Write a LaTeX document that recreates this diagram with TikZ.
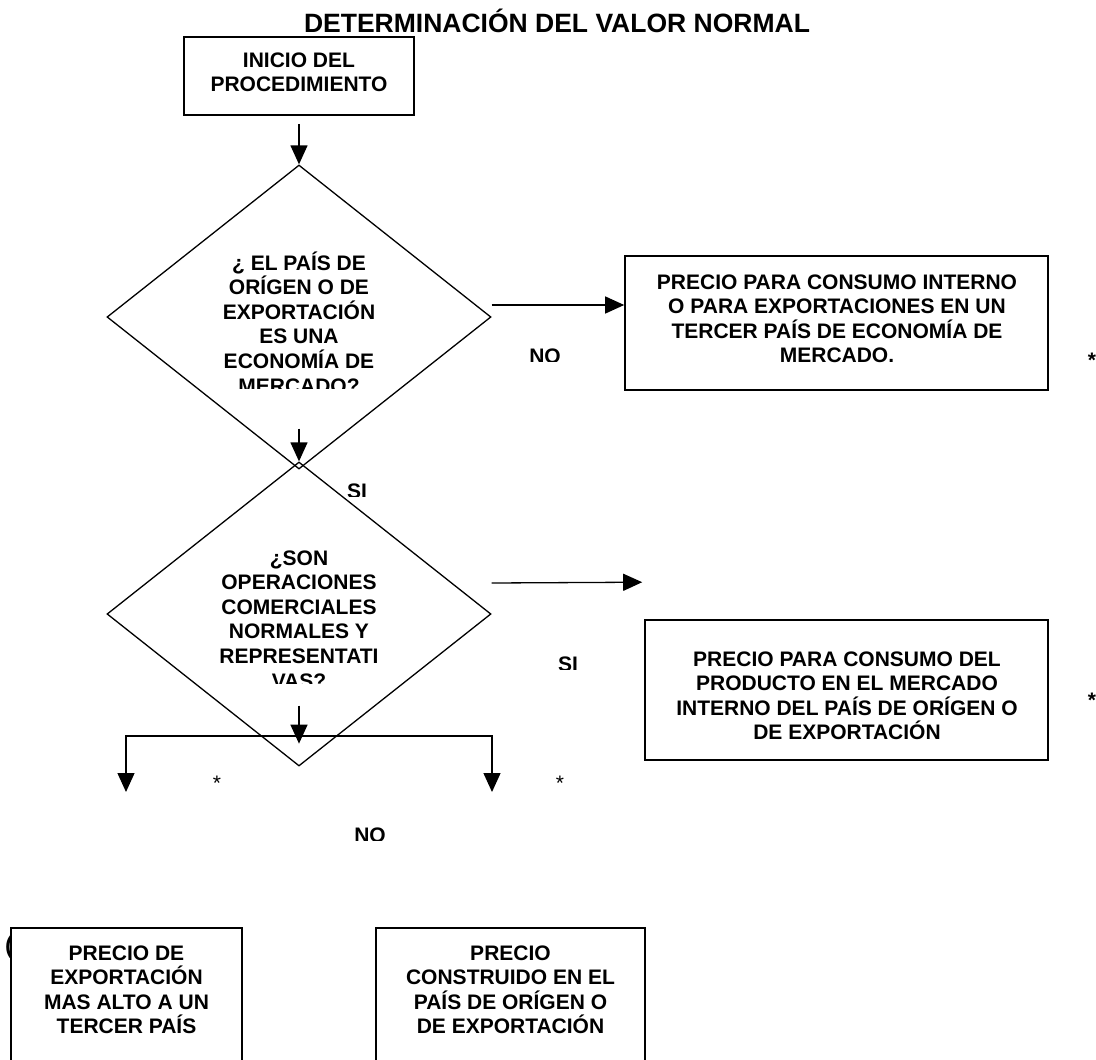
\documentclass[tikz,border=0pt]{standalone}
\usepackage{fontspec}
\setmainfont{Liberation Sans}
\usetikzlibrary{arrows.meta,calc,shapes.geometric}
\newcommand\blk[1]{\vtop{\baselineskip=24.6pt\lineskiplimit=-100pt\lineskip=0pt\halign{\hfil##\hfil\cr#1\crcr}}}
\begin{document}
\begin{tikzpicture}[x=1pt,y=-1pt,
  lbl/.style={font=\bfseries\fontsize{21}{24.6}\selectfont, inner sep=0pt, anchor=base},
  lblr/.style={font=\fontsize{21}{24.6}\selectfont, inner sep=0pt, anchor=base},
  ttl/.style={font=\bfseries\fontsize{26.5}{30}\selectfont, inner sep=0pt, anchor=base},
  box/.style={draw, line width=1.6pt, fill=white, inner sep=0pt},
  dia/.style={draw, diamond, line width=1.3pt, inner sep=0pt, minimum width=384pt, minimum height=304pt},
  arr/.style={line width=1.3pt, -{Triangle[length=19pt,width=17pt]}},
  ln/.style={line width=1.3pt}]
\useasboundingbox (0,0) rectangle (1096,1060);
\fill[white] (0,0) rectangle (1096,1060);
\clip (0,0) rectangle (1096,1060);

\node[ttl] (title) at (557,32) {DETERMINACIÓN DEL VALOR NORMAL};

\node[box, minimum width=230pt, minimum height=78pt] (sbox) at (299,76) {};
\node[lbl] (stxt) at (299,67) {\blk{INICIO DEL\cr PROCEDIMIENTO}};

\node[dia] (d1) at (299,317) {};
\begin{scope}
\clip (100,240) rectangle (500,388);
\node[lbl] (d1txt) at (299,270) {\blk{¿ EL PAÍS DE\cr ORÍGEN O DE\cr EXPORTACIÓN\cr ES UNA\cr ECONOMÍA DE\cr MERCADO?}};
\end{scope}
\draw[arr] ($(sbox.south)+(0,8)$) -- (d1.north);

\node[box, minimum width=423pt, minimum height=134pt] (b1) at (836.5,323) {};
\node[lbl] (b1txt) at (837,289) {\blk{PRECIO PARA CONSUMO INTERNO\cr O PARA EXPORTACIONES EN UN\cr TERCER PAÍS DE ECONOMÍA DE\cr MERCADO.}};
\draw[arr] ($(d1.east)+(0,-12)$) -- ($(b1.west)+(0,-18)$);
\begin{scope}
\clip (500,330) rectangle (600,361.5);
\node[lbl] (no1) at (545,363.5) {NO};
\end{scope}
\node[lbl] (ast1) at (1092,367) {*};

\node[dia] (d2) at (299,614) {};
\begin{scope}
\clip (100,540) rectangle (500,683);
\node[lbl] (d2txt) at (299,565) {\blk{¿SON\cr OPERACIONES\cr COMERCIALES\cr NORMALES Y\cr REPRESENTATI\cr VAS?}};
\end{scope}
\draw[arr] ($(d1.south)+(0,-41)$) -- (d2.north);
\begin{scope}
\clip (330,470) rectangle (390,496);
\node[lbl] (si1) at (357,498) {SI};
\end{scope}

\node[box, minimum width=403pt, minimum height=140pt] (b2) at (846.5,690) {};
\node[lbl] (b2txt) at (847,666) {\blk{PRECIO PARA CONSUMO DEL\cr PRODUCTO EN EL MERCADO\cr INTERNO DEL PAÍS DE ORÍGEN O\cr DE EXPORTACIÓN}};
\coordinate (c2) at ($(b2.north west)+(-2,-37)$);
\draw[arr] ($(d2.east)+(0,-31)$) -- (c2);
\begin{scope}
\clip (540,640) rectangle (600,669);
\node[lbl] (si2) at (568,671) {SI};
\end{scope}
\node[lbl] (ast2) at (1092,707) {*};

\coordinate (dn1) at ($(d2.south)+(0,-61)$);
\coordinate (dn2) at ($(d2.south)+(0,-23)$);
\draw[arr] (dn1) -- (dn2);
\coordinate (bl) at (126,736);
\coordinate (br) at (492,736);
\coordinate (blt) at (126,792);
\coordinate (brt) at (492,792);
\draw[arr] ($(bl)!0.5!(br)$) -- (bl) -- (blt);
\draw[arr] ($(bl)!0.5!(br)$) -- (br) -- (brt);
\node[lblr] (ast3) at (217,790) {*};
\node[lblr] (ast4) at (560,790) {*};
\begin{scope}
\clip (330,810) rectangle (410,840);
\node[lbl] (no2) at (370,842) {NO};
\end{scope}

\node[lbl, font=\bfseries\fontsize{24}{28}\selectfont, anchor=base west] (par) at (5,953) {(};
\node[box, minimum width=231pt, minimum height=152pt] (bb1) at (126.5,1004) {};
\node[lbl] (bb1txt) at (126.5,960) {\blk{PRECIO DE\cr EXPORTACIÓN\cr MAS ALTO A UN\cr TERCER PAÍS}};
\node[box, minimum width=269pt, minimum height=152pt] (bb2) at (510.5,1004) {};
\node[lbl] (bb2txt) at (510.5,960) {\blk{PRECIO\cr CONSTRUIDO EN EL\cr PAÍS DE ORÍGEN O\cr DE EXPORTACIÓN}};
\end{tikzpicture}
\end{document}
